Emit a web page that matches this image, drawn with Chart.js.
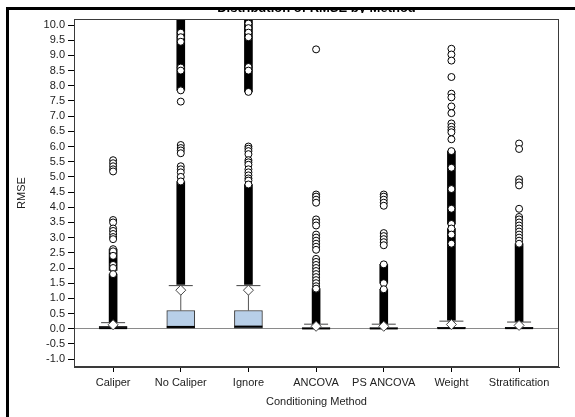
<!DOCTYPE html>
<html>
<head>
<meta charset="utf-8">
<script src="https://cdn.jsdelivr.net/npm/chart.js@4"></script>
<style>
html, body { margin: 0; padding: 0; background: #fff; }
</style>
</head>
<body>
<canvas id="chart" width="575" height="417"></canvas>
<script>
//Chart text
var chartTitle = 'Distribution of RMSE by Method';
var xTitle = 'Conditioning Method';
var yTitle = 'RMSE';

//Categories and tick labels
var methods = ['Caliper', 'No Caliper', 'Ignore', 'ANCOVA', 'PS ANCOVA', 'Weight', 'Stratification'];
var yTicks = [-1.0, -0.5, 0.0, 0.5, 1.0, 1.5, 2.0, 2.5, 3.0, 3.5, 4.0, 4.5, 5.0, 5.5, 6.0, 6.5, 7.0, 7.5, 8.0, 8.5, 9.0, 9.5, 10.0];

//Box statistics, one value per method
var q1 = [0.00, 0.02, 0.02, 0.00, 0.00, 0.00, 0.00];
var median = [0.02, 0.06, 0.07, 0.01, 0.01, 0.02, 0.02];
var q3 = [0.08, 0.60, 0.60, 0.03, 0.03, 0.05, 0.05];
var whiskerHigh = [0.20, 1.42, 1.42, 0.15, 0.15, 0.25, 0.22];
var means = [0.13, 1.27, 1.27, 0.08, 0.08, 0.14, 0.11];

//Ranges where the outlier circles pile up into a solid column: [method, low, high]
var outlierRuns = [
    [0, 0.22, 1.80], [0, 1.92, 2.62],
    [1, 1.46, 4.85], [1, 7.85, 10.40],
    [2, 1.46, 4.75], [2, 7.80, 10.40],
    [3, 0.17, 1.32],
    [4, 0.17, 1.30], [4, 1.50, 2.12],
    [5, 0.28, 3.30], [5, 3.45, 5.85],
    [6, 0.24, 2.80]
];

//Single outliers per method
var outliers = [
    [5.55, 5.45, 5.35, 5.25, 5.18, 3.58, 3.50, 3.30, 3.22, 3.12, 3.02, 2.95, 2.62, 2.55, 2.40, 2.10, 2.00, 1.80],
    [9.75, 9.60, 9.45, 8.60, 8.50, 7.85, 7.48, 6.05, 5.95, 5.87, 5.78, 5.35, 5.25, 5.15, 5.00, 4.85],
    [10.05, 9.90, 9.75, 9.60, 8.62, 8.50, 7.80, 6.00, 5.93, 5.85, 5.75, 5.55, 5.48, 5.40, 5.25, 5.15, 5.05, 4.95, 4.88, 4.75],
    [9.20, 4.42, 4.35, 4.25, 4.15, 3.60, 3.50, 3.40, 3.10, 3.00, 2.90, 2.80, 2.70, 2.60, 2.30, 2.20, 2.10, 2.00, 1.90, 1.80, 1.70, 1.60, 1.50, 1.40, 1.32],
    [4.42, 4.35, 4.25, 4.15, 4.05, 3.15, 3.05, 2.95, 2.85, 2.75, 2.12, 1.50, 1.30],
    [9.22, 9.03, 8.83, 8.29, 7.74, 7.62, 7.32, 7.10, 6.76, 6.65, 6.55, 6.47, 6.24, 5.85, 5.30, 4.60, 3.95, 3.45, 3.30, 3.10, 2.80],
    [6.10, 5.92, 4.92, 4.82, 4.72, 3.95, 3.68, 3.60, 3.50, 3.40, 3.30, 3.20, 3.10, 3.00, 2.90, 2.80]
];

//Build datasets from the arrays
var boxData = [];
var medianData = [];
var capData = [];
var meanData = [];
var whiskerData = [];
for(var i = 0; i < methods.length; i++){
    boxData.push({x: i, y: [q1[i], q3[i]]});
    medianData.push({x: i, y: median[i]});
    capData.push({x: i, y: whiskerHigh[i]});
    meanData.push({x: i, y: means[i]});
    whiskerData.push({x: i, y: q3[i]});
    whiskerData.push({x: i, y: whiskerHigh[i]});
    whiskerData.push({x: i, y: null});
}
var runData = [];
for(var r = 0; r < outlierRuns.length; r++){
    runData.push({x: outlierRuns[r][0], y: [outlierRuns[r][1], outlierRuns[r][2]]});
}
var outlierData = [];
for(var m = 0; m < outliers.length; m++){
    for(var o = 0; o < outliers[m].length; o++){
        outlierData.push({x: m, y: outliers[m][o]});
    }
}

var font = '"Liberation Sans", Arial, sans-serif';

//Frame, clipped title and plot outline
var framePlugin = {
    id: 'frame',
    afterDraw: function(chart){
        var ctx = chart.ctx;
        var a = chart.chartArea;
        ctx.save();
        ctx.strokeStyle = '#3a3a3a';
        ctx.lineWidth = 1;
        ctx.strokeRect(a.left + 0.5, a.top + 0.5, a.right - a.left - 1, a.bottom - a.top - 1);
        ctx.restore();

        ctx.save();
        ctx.beginPath();
        ctx.rect(0, 10, chart.width, 3);
        ctx.clip();
        ctx.fillStyle = '#000';
        ctx.font = 'bold 13px ' + font;
        ctx.textAlign = 'center';
        ctx.textBaseline = 'alphabetic';
        ctx.fillText(chartTitle, (a.left + a.right) / 2, 12);
        ctx.restore();

        ctx.save();
        ctx.fillStyle = '#000';
        ctx.fillRect(6, 7, chart.width - 6, 3);
        ctx.fillRect(6, 7, 3, chart.height - 7);
        ctx.restore();
    }
};

var ctx = document.getElementById('chart').getContext('2d');
var chart = new Chart(ctx, {
    type: 'bar',
    data: {
        datasets: [
            {
                //Dense outlier columns
                type: 'bar',
                data: runData,
                backgroundColor: '#000',
                barThickness: 8,
                grouped: false,
                order: 2
            },
            {
                //Boxes
                type: 'bar',
                data: boxData,
                backgroundColor: '#b8cfe8',
                borderColor: '#333',
                borderWidth: 1,
                borderSkipped: false,
                barThickness: 28,
                grouped: false,
                order: 5
            },
            {
                //Whiskers
                type: 'line',
                data: whiskerData,
                borderColor: '#555',
                borderWidth: 1,
                pointRadius: 0,
                spanGaps: false,
                order: 6
            },
            {
                //Whisker caps
                type: 'scatter',
                data: capData,
                pointStyle: 'line',
                pointRadius: 12,
                borderColor: '#444',
                borderWidth: 1,
                order: 4
            },
            {
                //Medians
                type: 'scatter',
                data: medianData,
                pointStyle: 'line',
                pointRadius: 14,
                borderColor: '#000',
                borderWidth: 2,
                order: 3
            },
            {
                //Means
                type: 'scatter',
                data: meanData,
                pointStyle: 'rectRot',
                pointRadius: 5,
                backgroundColor: '#fff',
                borderColor: '#444',
                borderWidth: 1,
                order: 1
            },
            {
                //Outliers
                type: 'scatter',
                data: outlierData,
                pointStyle: 'circle',
                pointRadius: 3.5,
                backgroundColor: '#fff',
                borderColor: '#000',
                borderWidth: 1,
                order: 0
            }
        ]
    },
    options: {
        responsive: false,
        animation: false,
        layout: {padding: {top: 19, right: 5, left: 0, bottom: 0}},
        plugins: {
            legend: {display: false},
            tooltip: {enabled: false}
        },
        scales: {
            x: {
                type: 'linear',
                min: -0.578,
                max: 6.59,
                offset: false,
                afterBuildTicks: function(scale){
                    scale.ticks = methods.map(function(name, k){ return {value: k}; });
                },
                afterFit: function(scale){ scale.height = 50; },
                grid: {offset: false, drawOnChartArea: false, drawTicks: true, tickLength: 5, color: '#000'},
                border: {color: '#3a3a3a'},
                ticks: {
                    autoSkip: false,
                    maxRotation: 0,
                    padding: 4,
                    color: '#222',
                    font: {family: font, size: 11},
                    callback: function(value){ return methods[value]; }
                },
                title: {display: true, text: xTitle, color: '#222', font: {family: font, size: 11}, padding: {top: 0, bottom: 8}}
            },
            y: {
                min: -1.26,
                max: 10.2,
                afterBuildTicks: function(scale){
                    scale.ticks = yTicks.map(function(v){ return {value: v}; });
                },
                afterFit: function(scale){ scale.width = 74; },
                grid: {
                    drawTicks: true,
                    tickLength: 6,
                    tickColor: '#000',
                    color: function(c){ return c.tick && c.tick.value === 0 ? '#8a8a8a' : 'rgba(0,0,0,0)'; }
                },
                border: {color: '#3a3a3a'},
                ticks: {
                    autoSkip: false,
                    padding: 3,
                    color: '#222',
                    font: {family: font, size: 11},
                    callback: function(value){ return Number(value).toFixed(1); }
                },
                title: {display: true, text: yTitle, color: '#222', font: {family: font, size: 11}, padding: {top: 15, bottom: 0}}
            }
        }
    },
    plugins: [framePlugin]
});
</script>
</body>
</html>
